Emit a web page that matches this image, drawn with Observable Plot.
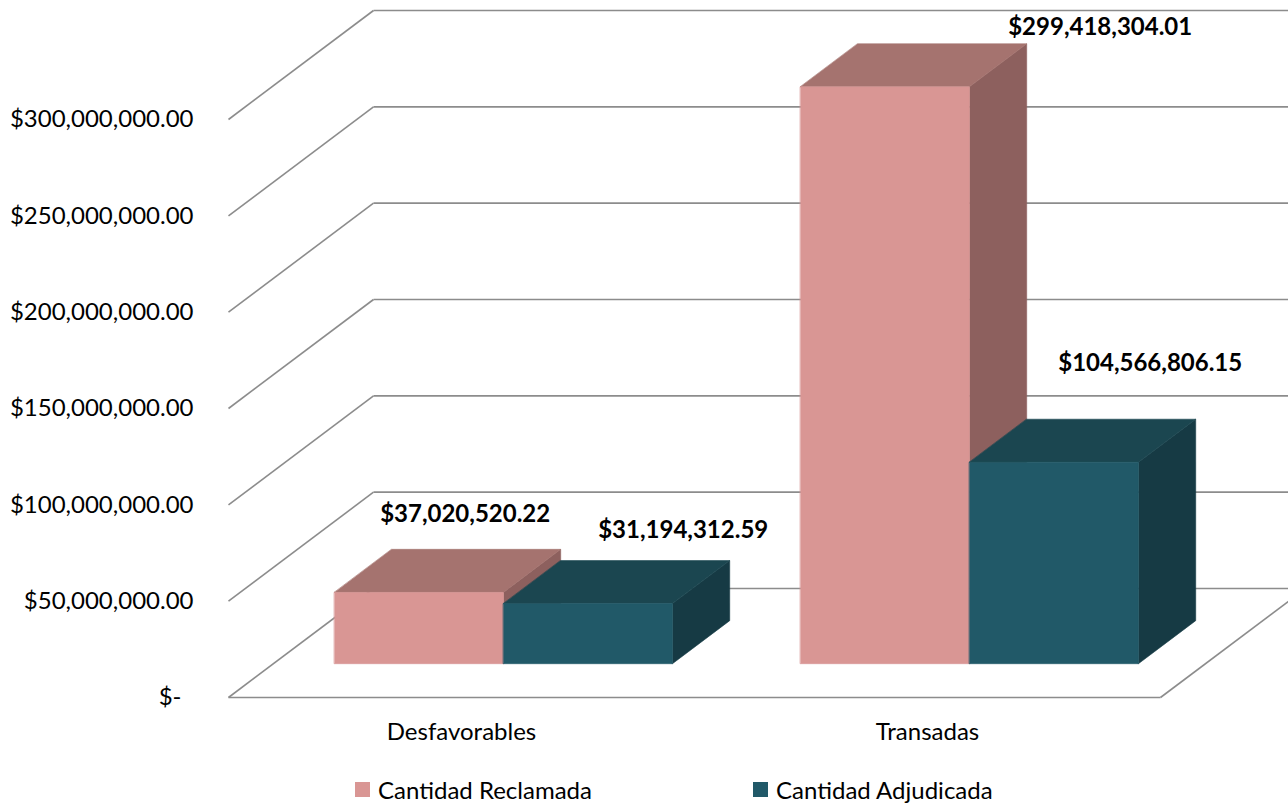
<!DOCTYPE html>
<html>
<head>
<meta charset="utf-8">
<script src="https://cdn.jsdelivr.net/npm/d3@7"></script>
<script src="https://cdn.jsdelivr.net/npm/@observablehq/plot@0.6"></script>
<style>
  html, body { margin: 0; padding: 0; background: #fff; overflow: hidden; }
  body { font-family: Lato, "Noto Sans", sans-serif; }
  #chart svg { display: block; }
  #legend { position: relative; width: 1288px; height: 38px; font-size: 24px; color: #000; }
  #legend .item { position: absolute; top: 5px; height: 38px; display: flex; align-items: center; white-space: nowrap; }
  #legend .sw { width: 15px; height: 15px; margin-right: 8px; }
</style>
</head>
<body>
<div id="chart"></div>
<div id="legend"></div>
<script>
// ---------- data ----------
const categories = ["Desfavorables", "Transadas"];
const seriesNames = ["Cantidad Reclamada", "Cantidad Adjudicada"];
const reclamada = [37020520.22, 299418304.01];
const adjudicada = [31194312.59, 104566806.15];
const yTicks = [0, 50000000, 100000000, 150000000, 200000000, 250000000, 300000000];

// ---------- styles / layout ----------
const seriesColors = [
  { front: "#d99694", top: "#a5736f", side: "#8d605e" },
  { front: "#215968", top: "#1b4650", side: "#163a44" }
];
const FONT = 24;
const W = 1288, H = 765, ML = 228, MR = 128, MT = 119, MB = 68;
const DEPTH_PX = { x: 145, y: 109 };     // oblique depth of the box, pixels
const BAR_FRONT = 0.31, BAR_BACK = 0.705; // bar depth span (fraction of box depth)
const BAR_W = 0.3627;                     // bar width in category units
const GROUP_SHIFT = -0.0065;              // small offset of each bar group
const labelNudges = [[[-11, -35], [38, -30]], [[158, -16], [39, -56]]];

const xDomain = [0, categories.length];
const yDomain = [0, yTicks[yTicks.length - 1]];
const pxPerX = (W - ML - MR) / (xDomain[1] - xDomain[0]);
const pxPerY = (H - MT - MB) / (yDomain[1] - yDomain[0]);
const DX = DEPTH_PX.x / pxPerX;
const DY = DEPTH_PX.y / pxPerY;
const P = (x, v, z) => ({ x: x + z * DX, y: v + z * DY });

// ---------- walls ----------
const wallLinks = [];
for (const v of yTicks) {
  const a = P(0, v, 1), b = P(xDomain[1], v, 1);
  wallLinks.push({ x1: a.x, y1: a.y, x2: b.x, y2: b.y });       // back wall
  const c = P(0, v, 0);
  wallLinks.push({ x1: c.x, y1: c.y, x2: a.x, y2: a.y });       // left wall
}
{
  const fl = P(0, 0, 0), fr = P(xDomain[1], 0, 0), br = P(xDomain[1], 0, 1);
  wallLinks.push({ x1: fl.x, y1: fl.y, x2: fr.x, y2: fr.y });   // floor front edge
  wallLinks.push({ x1: fr.x, y1: fr.y, x2: br.x, y2: br.y });   // floor right edge
}

// ---------- bars as projected faces ----------
const series = [reclamada, adjudicada];
const faceRows = [];
const labels = [];
categories.forEach((cat, i) => {
  series.forEach((vals, s) => {
    const v = vals[i];
    const x0 = i + 0.5 + GROUP_SHIFT + (s === 0 ? -BAR_W : 0), x1 = x0 + BAR_W;
    const zf = BAR_FRONT, zb = BAR_BACK;
    const col = seriesColors[s];
    const faces = [
      ["side", col.side, [P(x1, 0, zf), P(x1, 0, zb), P(x1, v, zb), P(x1, v, zf)]],
      ["top", col.top, [P(x0, v, zf), P(x1, v, zf), P(x1, v, zb), P(x0, v, zb)]],
      ["front", col.front, [P(x0, 0, zf), P(x1, 0, zf), P(x1, v, zf), P(x0, v, zf)]]
    ];
    for (const [name, color, pts] of faces) {
      const key = `${i}-${s}-${name}`;
      for (const p of pts) faceRows.push({ key, color, x: p.x, y: p.y });
    }
    const a = P((x0 + x1) / 2, v, zb);
    labels.push({
      x: a.x, y: a.y,
      text: "$" + d3.format(",.2f")(v),
      dx: labelNudges[i][s][0], dy: labelNudges[i][s][1]
    });
  });
});

const fmtTick = v => v === 0 ? "$-\u2002" : "$" + d3.format(",.2f")(v);

const chart = Plot.plot({
  width: W, height: H,
  marginLeft: ML, marginRight: MR, marginTop: MT, marginBottom: MB,
  x: { domain: xDomain, axis: null },
  y: { domain: yDomain, axis: null },
  color: { type: "identity" },
  style: { fontFamily: "Lato, 'Noto Sans', sans-serif", fontSize: FONT + "px", background: "#fff", overflow: "hidden", color: "#000" },
  marks: [
    Plot.link(wallLinks, { x1: "x1", y1: "y1", x2: "x2", y2: "y2", stroke: "#8c8c8c", strokeWidth: 1.6 }),
    Plot.line(faceRows, { x: "x", y: "y", z: "key", fill: "color", stroke: "color", strokeWidth: 0.6, curve: "linear-closed" }),
    Plot.axisY(yTicks, { tickSize: 0, tickPadding: 35, tickFormat: fmtTick, fontSize: FONT }),
    Plot.axisX(categories.map((_, i) => i + 0.5), { tickSize: 0, tickPadding: 25, fontSize: FONT, tickFormat: d => categories[Math.floor(d)] }),
    ...labels.map(l => Plot.text([l], { x: "x", y: "y", text: "text", dx: l.dx, dy: l.dy, fontWeight: "bold", fontSize: FONT, fill: "#000" }))
  ]
});
document.getElementById("chart").appendChild(chart);

// ---------- legend ----------
const legendPos = [355, 753];
const legend = document.getElementById("legend");
seriesNames.forEach((name, s) => {
  const item = document.createElement("div");
  item.className = "item";
  item.style.left = legendPos[s] + "px";
  const sw = document.createElement("span");
  sw.className = "sw";
  sw.style.background = seriesColors[s].front;
  const t = document.createElement("span");
  t.textContent = name;
  item.appendChild(sw); item.appendChild(t);
  legend.appendChild(item);
});
</script>
</body>
</html>
